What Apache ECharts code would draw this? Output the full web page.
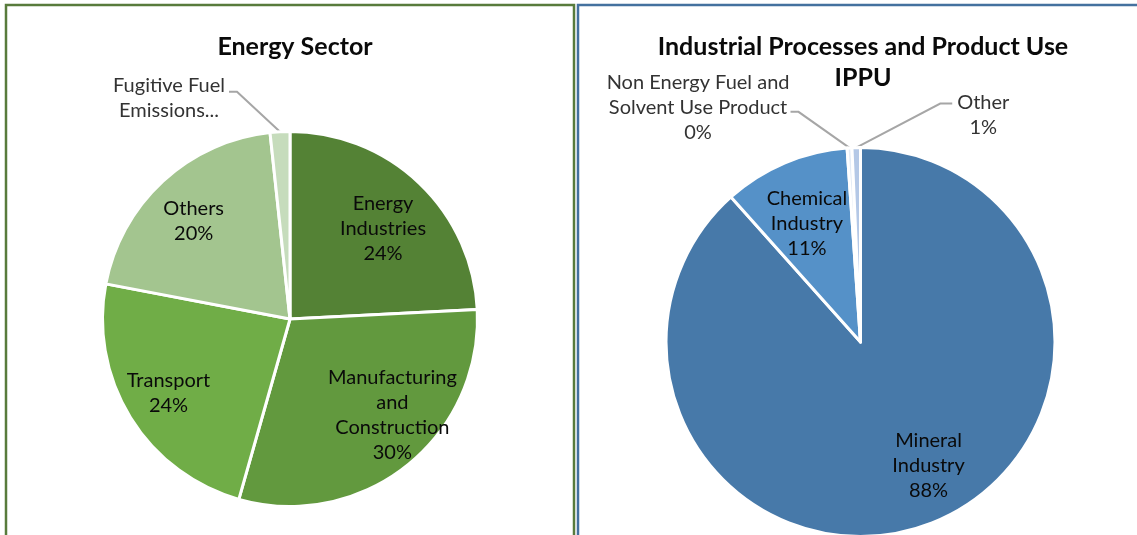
<!DOCTYPE html>
<html><head><meta charset="utf-8">
<script src="https://cdn.jsdelivr.net/npm/echarts@6/dist/echarts.min.js"></script>
<style>html,body{margin:0;padding:0;background:#fff}#c{width:1137px;height:535px}</style>
</head><body><div id="c"></div>
<script>
// ---- data ----
const energyCategories = ['Energy\nIndustries', 'Manufacturing\nand\nConstruction', 'Transport', 'Others', 'Fugitive Fuel\nEmissions...'];
const energyValues = [24.2, 30.2, 23.6, 20.3, 1.7];
const energyShowPercent = [true, true, true, true, false];
const ippuCategories = ['Mineral\nIndustry', 'Chemical\nIndustry', 'Non Energy Fuel and\nSolvent Use Product', 'Other'];
const ippuValues = [88.4, 10.5, 0.4, 0.7];
const ippuShowPercent = [true, true, true, true];
const panelTitles = ['Energy Sector', 'Industrial Processes and Product Use\nIPPU'];

// ---- style ----
const FONT = 'Lato, "Open Sans", sans-serif';
const energyColors = ['#548235', '#62993e', '#70ad47', '#a3c58f', '#c6dcbc'];
const ippuColors = ['#4779a9', '#5591c8', '#e4ecf6', '#b4c8e6'];
const L = {cx: 290, cy: 319, r: 187.5, k: 0.5,
  tweaks: [
    {inside: true, dx: -7, dy: 15},
    {inside: true, dx: 12, dy: -17},
    {inside: true, dx: 2, dy: -2},
    {inside: true, dx: 2, dy: 9},
    {inside: false, l1: [-43, -40], l2: -8, gap: 4, dy: 6}
  ]};
const R = {cx: 860.5, cy: 342, r: 194.5, k: 0.4,
  tweaks: [
    {inside: true, dx: 18, dy: -8},
    {inside: true, dx: 1, dy: 11},
    {inside: false, l1: [-51, -36], l2: -8, gap: 1, dy: -4},
    {inside: false, l1: [84, -44], l2: 12, gap: 5, dy: 11}
  ]};

function makeLayout(cfg) {
  return function (p) {
    const t = cfg.tweaks[p.dataIndex];
    const rc = p.labelRect;
    const lx = rc.x + rc.width / 2, ly = rc.y + rc.height / 2;
    if (t.inside) {
      return {dx: (lx - cfg.cx) * cfg.k + t.dx, dy: (ly - cfg.cy) * cfg.k + t.dy};
    }
    const pts = p.labelLinePoints;
    const p0 = pts[0];
    const p1 = [p0[0] + t.l1[0], p0[1] + t.l1[1]];
    const p2 = [p1[0] + t.l2, p1[1]];
    const side = t.l2 < 0 ? -1 : 1;
    return {
      x: p2[0] + side * (t.gap + rc.width / 2),
      y: p2[1] + t.dy,
      align: 'center', verticalAlign: 'middle',
      labelLinePoints: [p0, p1, p2]
    };
  };
}

function buildData(names, values, colors, cfg) {
  return names.map((n, i) => ({
    name: n,
    value: values[i],
    itemStyle: {color: colors[i]},
    label: {
      position: cfg.tweaks[i].inside ? 'inside' : 'outside',
      color: cfg.tweaks[i].inside ? '#0a0a0a' : '#333333'
    },
    labelLine: {show: !cfg.tweaks[i].inside}
  }));
}

function pieSeries(names, values, colors, showPct, cfg) {
  return {
    type: 'pie',
    center: [cfg.cx, cfg.cy],
    radius: [0, cfg.r],
    startAngle: 90,
    clockwise: true,
    avoidLabelOverlap: false,
    silent: true,
    animation: false,
    percentPrecision: 2,
    itemStyle: {borderColor: '#ffffff', borderWidth: 3},
    label: {
      show: true,
      fontFamily: FONT,
      fontSize: 20,
      lineHeight: 25,
      align: 'center',
      formatter: function (p) {
        const withPct = showPct[p.dataIndex];
        return withPct ? p.name + '\n' + Math.round(p.percent) + '%' : p.name;
      }
    },
    labelLine: {show: true, lineStyle: {color: '#a6a6a6', width: 2}, length: 20, length2: 10},
    labelLayout: makeLayout(cfg),
    data: buildData(names, values, colors, cfg)
  };
}

const chart = echarts.init(document.getElementById('c'), null, {renderer: 'canvas'});
chart.setOption({
  backgroundColor: '#ffffff',
  animation: false,
  title: [
    {text: panelTitles[0], left: 290, top: 26, textAlign: 'center',
     textStyle: {fontFamily: FONT, fontWeight: 'bold', fontSize: 25, lineHeight: 31, color: '#0a0a0a'}},
    {text: panelTitles[1], left: 858, top: 26, textAlign: 'center',
     textStyle: {fontFamily: FONT, fontWeight: 'bold', fontSize: 25, lineHeight: 31, color: '#0a0a0a'}}
  ],
  graphic: [
    {type: 'rect', shape: {x: 6, y: 5, width: 568, height: 620}, style: {fill: 'none', stroke: '#587b3c', lineWidth: 2.5}, silent: true},
    {type: 'rect', shape: {x: 578, y: 5, width: 700, height: 620}, style: {fill: 'none', stroke: '#44719f', lineWidth: 2.5}, silent: true}
  ],
  series: [
    pieSeries(energyCategories, energyValues, energyColors, energyShowPercent, L),
    pieSeries(ippuCategories, ippuValues, ippuColors, ippuShowPercent, R)
  ]
});
</script>
</body></html>
